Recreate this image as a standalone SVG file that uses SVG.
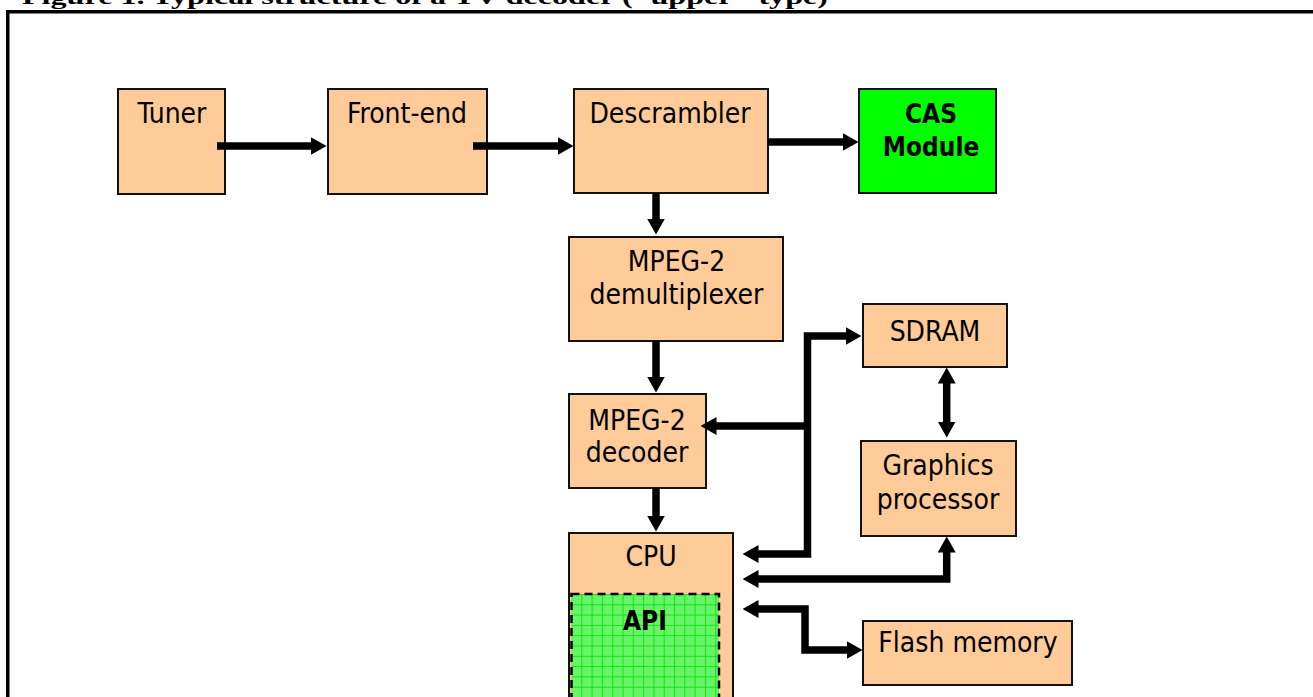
<svg xmlns="http://www.w3.org/2000/svg" width="1313" height="697" viewBox="0 0 1313 697">
<style>
.box{fill:#FFCC99;stroke:#111;stroke-width:2}
.cas{fill:#00FF00;stroke:#111;stroke-width:2}
.t{font-family:"DejaVu Sans Condensed","DejaVu Sans",sans-serif;font-size:28px;fill:#000;text-anchor:middle}
.b{font-family:"DejaVu Sans Condensed","DejaVu Sans",sans-serif;font-size:26px;font-weight:bold;fill:#000;text-anchor:middle}
.c{fill:none;stroke:#000;stroke-width:7.5;stroke-linejoin:miter}
.title{font-family:"Liberation Serif",serif;font-weight:bold;font-size:22px;fill:#000}
</style>
<defs>
<marker id="ah" markerUnits="userSpaceOnUse" viewBox="0 0 16 18" markerWidth="16" markerHeight="18" refX="0.5" refY="9" orient="auto-start-reverse">
<path d="M0,0 L16,9 L0,18 z" fill="#000"/>
</marker>
<pattern id="grid" patternUnits="userSpaceOnUse" width="10.3" height="10.3" x="571" y="594">
<rect width="10.3" height="10.3" fill="#66F566"/>
<path d="M0,0.5 H10.3 M0.5,0 V10.3" stroke="#18E018" stroke-width="1"/>
</pattern>
</defs>
<rect width="1313" height="697" fill="#fff"/>
<text class="title" x="22" y="3.5" textLength="806" lengthAdjust="spacingAndGlyphs">Figure 1. Typical structure of a TV decoder ("upper" type)</text>
<rect x="7.75" y="11.75" width="1400" height="800" fill="none" stroke="#000" stroke-width="3.5"/>
<g id="tuner">
<rect class="box" x="118" y="89" width="107" height="105"/>
<text class="t" x="172" y="123">Tuner</text>
</g>
<g id="frontend">
<rect class="box" x="328" y="89" width="159" height="105"/>
<text class="t" x="407" y="123">Front-end</text>
</g>
<g id="descrambler">
<rect class="box" x="574" y="89" width="194" height="104"/>
<text class="t" x="670" y="123">Descrambler</text>
</g>
<g id="cas">
<rect class="cas" x="859" y="89" width="137" height="104"/>
<text class="b" x="931" y="123">CAS</text>
<text class="b" x="931" y="156">Module</text>
</g>
<g id="demux">
<rect class="box" x="569" y="237" width="214" height="104"/>
<text class="t" x="676.5" y="271">MPEG-2</text>
<text class="t" x="676.5" y="304">demultiplexer</text>
</g>
<g id="decoder">
<rect class="box" x="569" y="394" width="137" height="94"/>
<text class="t" x="637" y="430">MPEG-2</text>
<text class="t" x="637" y="462">decoder</text>
</g>
<g id="sdram">
<rect class="box" x="863" y="304" width="144" height="63"/>
<text class="t" x="935" y="341">SDRAM</text>
</g>
<g id="graphics">
<rect class="box" x="861" y="441" width="155" height="95"/>
<text class="t" x="938" y="475">Graphics</text>
<text class="t" x="938" y="509">processor</text>
</g>
<g id="flash">
<rect class="box" x="863" y="621" width="209" height="64"/>
<text class="t" x="968" y="652">Flash memory</text>
</g>
<g id="cpu">
<rect class="box" x="569" y="533" width="164" height="200"/>
<text class="t" x="651" y="566">CPU</text>
</g>
<g id="api">
<rect x="571.5" y="594" width="147.5" height="140" fill="url(#grid)" stroke="#000" stroke-width="2.5" stroke-dasharray="8,5"/>
<text class="b" x="645" y="630">API</text>
</g>
<g id="connectors">
<path class="c" d="M217,146 H311" marker-end="url(#ah)"/>
<path class="c" d="M473,146 H558" marker-end="url(#ah)"/>
<path class="c" d="M768,142 H843" marker-end="url(#ah)"/>
<path class="c" d="M656,193 V219" marker-end="url(#ah)"/>
<path class="c" d="M656,341 V377" marker-end="url(#ah)"/>
<path class="c" d="M656,488 V516" marker-end="url(#ah)"/>
<path class="c" d="M758,554 H807.5 V336 H846" marker-start="url(#ah)" marker-end="url(#ah)"/>
<path class="c" d="M807.5,426 H716" marker-end="url(#ah)"/>
<path class="c" d="M758,579 H946.7 V552" stroke-linejoin="round" marker-start="url(#ah)" marker-end="url(#ah)"/>
<path class="c" d="M758,609 H805 V650 H847" stroke-linejoin="round" marker-start="url(#ah)" marker-end="url(#ah)"/>
<path class="c" d="M946.7,383 V422" marker-start="url(#ah)" marker-end="url(#ah)"/>
</g>
</svg>
